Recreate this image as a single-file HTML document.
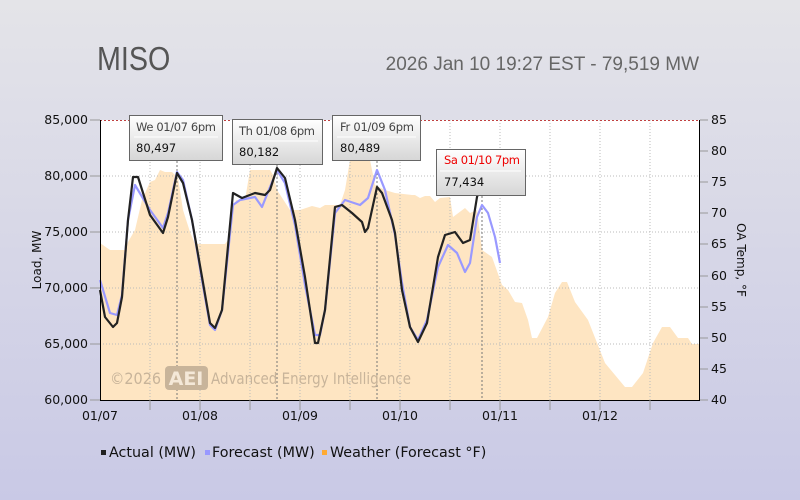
<!DOCTYPE html>
<html><head><meta charset="utf-8"><style>
html,body{margin:0;padding:0}
body{width:800px;height:500px;overflow:hidden;background:linear-gradient(#e4e4e8,#c9c9e6);font-family:"DejaVu Sans","Liberation Sans",sans-serif}
svg{display:block}
svg text{font-family:"DejaVu Sans","Liberation Sans",sans-serif}
</style></head><body>
<svg width="800" height="500" xmlns="http://www.w3.org/2000/svg">
<defs><linearGradient id="tg" x1="0" y1="0" x2="0" y2="1"><stop offset="0" stop-color="#ffffff"/><stop offset="1" stop-color="#d6d6d6"/></linearGradient></defs>
<text x="97" y="70" font-size="33" fill="#555" transform="translate(97 0) scale(0.87 1) translate(-97 0)" style="font-family:'Liberation Sans Narrow','Liberation Sans',sans-serif">MISO</text>
<text x="699" y="70" font-size="19" fill="#666" text-anchor="end" style="font-family:'Liberation Sans Narrow','Liberation Sans',sans-serif">2026 Jan 10 19:27 EST - 79,519 MW</text>
<rect x="100" y="120" width="600" height="280" fill="#fff"/>
<polygon fill="#fee5c2" points="100,400 100,243 110,250 125,250 128,242 135,230 142,200 150,182 155,180 160,170 165,172 172,172 178,178 183,210 190,232 195,244 225,244 228,240 232,210 236,200 245,200 250,170 270,170 273,175 277,190 290,210 300,210 312,206 320,208 325,205 340,205 345,190 350,160 370,160 375,185 385,190 395,193 412,195 415,195 420,198 425,196 430,196 435,202 440,198 450,197 453,217 465,208 470,213 477,210 482,250 492,257 502,285 508,290 515,302 522,303 528,320 532,338 537,338 548,317 555,293 562,282 567,282 575,302 588,320 605,363 625,387 632,387 643,373 653,343 662,327 670,327 678,338 688,338 692,344 700,344 700,400"/>
<g stroke="#bbb" stroke-dasharray="1,2" stroke-width="1">
<line x1="100" y1="176" x2="700" y2="176"/><line x1="100" y1="232" x2="700" y2="232"/><line x1="100" y1="288" x2="700" y2="288"/><line x1="100" y1="344" x2="700" y2="344"/>
<line x1="150" y1="120" x2="150" y2="400"/><line x1="200" y1="120" x2="200" y2="400"/><line x1="250" y1="120" x2="250" y2="400"/><line x1="300" y1="120" x2="300" y2="400"/><line x1="350" y1="120" x2="350" y2="400"/><line x1="400" y1="120" x2="400" y2="400"/><line x1="450" y1="120" x2="450" y2="400"/><line x1="500" y1="120" x2="500" y2="400"/><line x1="550" y1="120" x2="550" y2="400"/><line x1="600" y1="120" x2="600" y2="400"/><line x1="650" y1="120" x2="650" y2="400"/>
</g>
<g stroke="#777" stroke-dasharray="2,2" stroke-width="1">
<line x1="177" y1="161" x2="177" y2="400"/><line x1="277" y1="165" x2="277" y2="400"/><line x1="377" y1="161" x2="377" y2="400"/><line x1="482" y1="196" x2="482" y2="400"/>
</g>
<text x="110" y="384" font-size="16" fill="#c8b49a" transform="translate(110 0) scale(0.9 1) translate(-110 0)">©2026</text>
<rect x="165" y="366" width="43" height="24" rx="4" fill="#c8b49a"/>
<text x="186" y="385" font-size="19" fill="#f4e8d8" text-anchor="middle" font-weight="bold">AEI</text>
<text x="211" y="384" font-size="16" fill="#c8b49a" transform="translate(211 0) scale(0.84 1) translate(-211 0)">Advanced Energy Intelligence</text>
<polyline fill="none" stroke="#9999ff" stroke-width="2.2" stroke-linejoin="round" points="100,280 110,313 117,315 122,295 128,220 135,185 150,210 163,228 168,213 177,172 183,180 192,220 202,280 210,325 215,330 222,310 233,205 240,200 255,197 262,207 268,192 277,170 285,183 295,225 305,285 315,335 320,335 325,310 335,213 345,200 360,205 368,198 377,170 385,190 395,235 402,283 410,327 418,340 427,320 438,267 448,245 457,253 465,272 470,263 477,217 482,205 488,213 495,237 500,263"/>
<polyline fill="none" stroke="#222" stroke-width="2.2" stroke-linejoin="round" points="100,290 105,317 113,327 117,323 122,297 128,220 133,177 138,177 150,215 163,233 168,217 177,173 183,183 192,220 202,277 210,323 215,328 222,310 233,193 242,198 255,193 265,195 270,190 277,168 285,178 295,220 305,277 315,343 318,343 325,310 335,207 342,205 352,213 362,222 365,232 368,228 377,187 382,193 392,220 395,233 402,290 410,327 418,342 427,323 438,257 445,235 455,232 463,243 470,240 477,197 482,182"/>
<line x1="100" y1="120.5" x2="700" y2="120.5" stroke="#c04040" stroke-dasharray="2,2"/>
<line x1="100.5" y1="120" x2="100.5" y2="401" stroke="#000"/>
<line x1="699.5" y1="120" x2="699.5" y2="401" stroke="#000"/>
<line x1="100" y1="400.5" x2="700" y2="400.5" stroke="#000"/>
<g stroke="#999"><line x1="90" y1="120" x2="100" y2="120"/><line x1="90" y1="176" x2="100" y2="176"/><line x1="90" y1="232" x2="100" y2="232"/><line x1="90" y1="288" x2="100" y2="288"/><line x1="90" y1="344" x2="100" y2="344"/><line x1="90" y1="400" x2="100" y2="400"/>
<line x1="700" y1="120" x2="708" y2="120"/><line x1="700" y1="151" x2="708" y2="151"/><line x1="700" y1="182" x2="708" y2="182"/><line x1="700" y1="213" x2="708" y2="213"/><line x1="700" y1="244" x2="708" y2="244"/><line x1="700" y1="276" x2="708" y2="276"/><line x1="700" y1="307" x2="708" y2="307"/><line x1="700" y1="338" x2="708" y2="338"/><line x1="700" y1="369" x2="708" y2="369"/><line x1="700" y1="400" x2="708" y2="400"/>
<line x1="150" y1="400" x2="150" y2="410"/><line x1="200" y1="400" x2="200" y2="410"/><line x1="250" y1="400" x2="250" y2="410"/><line x1="300" y1="400" x2="300" y2="410"/><line x1="350" y1="400" x2="350" y2="410"/><line x1="400" y1="400" x2="400" y2="410"/><line x1="450" y1="400" x2="450" y2="410"/><line x1="500" y1="400" x2="500" y2="410"/><line x1="550" y1="400" x2="550" y2="410"/><line x1="600" y1="400" x2="600" y2="410"/><line x1="650" y1="400" x2="650" y2="410"/></g>
<g font-size="12.5" fill="#111" text-anchor="end">
<text x="88" y="124">85,000</text><text x="88" y="180">80,000</text><text x="88" y="236">75,000</text><text x="88" y="292">70,000</text><text x="88" y="348">65,000</text><text x="88" y="404">60,000</text></g>
<g font-size="12.5" fill="#111">
<text x="711" y="124">85</text><text x="711" y="155">80</text><text x="711" y="186">75</text><text x="711" y="217">70</text><text x="711" y="248">65</text><text x="711" y="280">60</text><text x="711" y="311">55</text><text x="711" y="342">50</text><text x="711" y="373">45</text><text x="711" y="404">40</text></g>
<g font-size="12.5" fill="#111" text-anchor="middle">
<text x="100" y="420">01/07</text><text x="200" y="420">01/08</text><text x="300" y="420">01/09</text><text x="400" y="420">01/10</text><text x="500" y="420">01/11</text><text x="600" y="420">01/12</text></g>
<text transform="translate(41 260) rotate(-90)" font-size="12" fill="#111" text-anchor="middle">Load, MW</text>
<text transform="translate(737 260) rotate(90)" font-size="12" fill="#111" text-anchor="middle">OA Temp, °F</text>
<g font-size="14.3" fill="#111">
<rect x="101" y="450" width="5" height="5" fill="#222"/><text x="109" y="457">Actual (MW)</text>
<rect x="205" y="450" width="5" height="5" fill="#9999ff"/><text x="212" y="457">Forecast (MW)</text>
<rect x="322" y="450" width="5" height="5" fill="#ffaa33"/><text x="330" y="457">Weather (Forecast °F)</text></g>
<g font-size="11.5">
<rect x="129.5" y="115.5" width="93" height="45" fill="url(#tg)" stroke="#666"/>
<line x1="134" y1="137" x2="218" y2="137" stroke="#fff"/>
<text x="136" y="131" fill="#444" textLength="80">We 01/07 6pm</text><text x="136" y="152" fill="#111">80,497</text>
<rect x="232.5" y="119.5" width="90" height="45" fill="url(#tg)" stroke="#666"/>
<line x1="237" y1="141" x2="318" y2="141" stroke="#fff"/>
<text x="239" y="135" fill="#444" textLength="76">Th 01/08 6pm</text><text x="239" y="156" fill="#111">80,182</text>
<rect x="332.5" y="115.5" width="88" height="45" fill="url(#tg)" stroke="#666"/>
<line x1="337" y1="137" x2="416" y2="137" stroke="#fff"/>
<text x="340" y="131" fill="#444" textLength="74">Fr 01/09 6pm</text><text x="340" y="152" fill="#111">80,489</text>
<rect x="436.5" y="149.5" width="89" height="46" fill="url(#tg)" stroke="#666"/>
<line x1="440" y1="171" x2="521" y2="171" stroke="#fff"/>
<text x="444" y="164" fill="#e00" textLength="76">Sa 01/10 7pm</text><text x="444" y="186" fill="#111">77,434</text>
</g>
</svg>
</body></html>
